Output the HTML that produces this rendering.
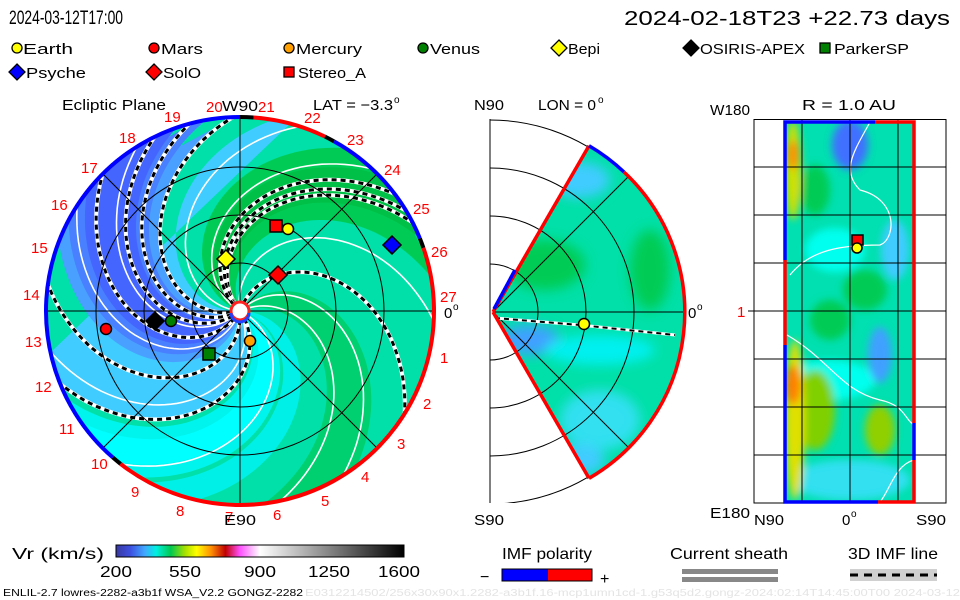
<!DOCTYPE html>
<html><head><meta charset="utf-8">
<style>
html,body{margin:0;padding:0;background:#fff;}
svg{display:block;font-family:"Liberation Sans",sans-serif;}
</style></head>
<body>
<svg id="s" width="960" height="600" viewBox="0 0 960 600" xmlns="http://www.w3.org/2000/svg">
<defs>
  <clipPath id="cc"><circle cx="240" cy="311" r="194"/></clipPath>
  <clipPath id="wc"><path d="M493,312 L589,145.7 A192,192 0 0 1 589,478.3 Z"/></clipPath>
  <clipPath id="rc"><rect x="785" y="122" width="129" height="380"/></clipPath>
  <clipPath id="mb"><rect x="490" y="119" width="260" height="384"/></clipPath>
  <filter id="bl" x="-50%" y="-50%" width="200%" height="200%"><feGaussianBlur stdDeviation="6"/></filter>
  <filter id="bl2" x="-50%" y="-50%" width="200%" height="200%"><feGaussianBlur stdDeviation="4"/></filter>
  <linearGradient id="cb" x1="0" x2="1" y1="0" y2="0">
    <stop offset="0" stop-color="#3838a0"/>
    <stop offset="0.05" stop-color="#3c50e0"/>
    <stop offset="0.1" stop-color="#40a8ff"/>
    <stop offset="0.14" stop-color="#00f0e0"/>
    <stop offset="0.19" stop-color="#00c850"/>
    <stop offset="0.24" stop-color="#a8e000"/>
    <stop offset="0.28" stop-color="#ffff00"/>
    <stop offset="0.33" stop-color="#ff9000"/>
    <stop offset="0.38" stop-color="#c00000"/>
    <stop offset="0.43" stop-color="#ff50ff"/>
    <stop offset="0.5" stop-color="#ffffff"/>
    <stop offset="1" stop-color="#000000"/>
  </linearGradient>
</defs>

<!-- header -->
<text x="9" y="24" font-size="19" textLength="114" lengthAdjust="spacingAndGlyphs">2024-03-12T17:00</text>
<text x="624" y="25" font-size="20" textLength="326" lengthAdjust="spacingAndGlyphs">2024-02-18T23 +22.73 days</text>

<!-- legend -->
<g font-size="15" stroke-width="1.3">
  <circle cx="17" cy="48" r="5" fill="#ffff00" stroke="#000"/><text x="23" y="54" textLength="50" lengthAdjust="spacingAndGlyphs">Earth</text>
  <circle cx="154" cy="48" r="5" fill="#ff0000" stroke="#000"/><text x="161" y="54" textLength="42" lengthAdjust="spacingAndGlyphs">Mars</text>
  <circle cx="289" cy="48" r="5" fill="#ffa000" stroke="#000"/><text x="296" y="54" textLength="66" lengthAdjust="spacingAndGlyphs">Mercury</text>
  <circle cx="423" cy="48" r="5" fill="#008000" stroke="#000"/><text x="430" y="54" textLength="50" lengthAdjust="spacingAndGlyphs">Venus</text>
  <path d="M559,40 L567,48 L559,56 L551,48Z" fill="#ffff00" stroke="#000"/><text x="568" y="54" textLength="32" lengthAdjust="spacingAndGlyphs">Bepi</text>
  <path d="M691,40 L699,48 L691,56 L683,48Z" fill="#000" stroke="#000"/><text x="700" y="54" textLength="105" lengthAdjust="spacingAndGlyphs">OSIRIS-APEX</text>
  <rect x="820" y="43" width="10" height="10" fill="#008000" stroke="#000"/><text x="834" y="54" textLength="75" lengthAdjust="spacingAndGlyphs">ParkerSP</text>
  <path d="M17,64 L25,72 L17,80 L9,72Z" fill="#0000ff" stroke="#000"/><text x="26" y="78" textLength="60" lengthAdjust="spacingAndGlyphs">Psyche</text>
  <path d="M154,64 L162,72 L154,80 L146,72Z" fill="#ff0000" stroke="#000"/><text x="163" y="78" textLength="38" lengthAdjust="spacingAndGlyphs">SolO</text>
  <rect x="284" y="67" width="10" height="10" fill="#ff0000" stroke="#000"/><text x="298" y="78" textLength="68" lengthAdjust="spacingAndGlyphs">Stereo_A</text>
</g>

<!-- LEFT PANEL -->
<g clip-path="url(#cc)">
  <circle cx="240" cy="311" r="194" fill="#00e0a8"/>
  <g id="bands"></g>
  <g id="lines"></g>
</g>
<g fill="none" stroke="#000" stroke-width="1">
  <circle cx="240" cy="311" r="48"/><circle cx="240" cy="311" r="96"/><circle cx="240" cy="311" r="144"/>
  <line x1="46" y1="311" x2="434" y2="311"/><line x1="240" y1="117" x2="240" y2="505"/>
  <line x1="103" y1="174" x2="377" y2="448"/><line x1="103" y1="448" x2="377" y2="174"/>
</g>
<g id="ring" fill="none" stroke-width="4"></g>
<g id="lab" font-size="15" fill="#ff0000"></g>
<text x="62" y="110" font-size="15" textLength="104" lengthAdjust="spacingAndGlyphs">Ecliptic Plane</text>
<text x="222" y="111" font-size="15" textLength="36" lengthAdjust="spacingAndGlyphs">W90</text>
<text x="224" y="525" font-size="15" textLength="32" lengthAdjust="spacingAndGlyphs">E90</text>
<text x="313" y="110" font-size="15" textLength="80" lengthAdjust="spacingAndGlyphs">LAT = −3.3</text>
<text x="394" y="103" font-size="10">o</text>
<text x="444" y="318" font-size="15">0</text><text x="453" y="310" font-size="10">o</text>

<!-- markers left -->
<g stroke="#000" stroke-width="1.5">
  <circle cx="240" cy="311" r="9" fill="#fff" stroke="#ff2020" stroke-width="3"/>
  <path d="M231,313 A9,9 0 0 0 249,313" fill="none" stroke="#2040ff" stroke-width="3"/>
  <rect x="270" y="220" width="12" height="12" fill="#ff0000"/>
  <circle cx="288" cy="229" r="5.5" fill="#ffff00"/>
  <path d="M392,236 L401,245 L392,254 L383,245Z" fill="#0000ff"/>
  <path d="M278,266 L287,275 L278,284 L269,275Z" fill="#ff0000"/>
  <path d="M226,250 L235,259 L226,268 L217,259Z" fill="#ffff00"/>
  <circle cx="106" cy="329" r="5.5" fill="#ff0000"/>
  <path d="M155,312 L164,321 L155,330 L146,321Z" fill="#000"/>
  <circle cx="171" cy="321" r="5.5" fill="#008000"/>
  <circle cx="250" cy="341" r="5.5" fill="#ffa000"/>
  <rect x="203" y="348" width="12" height="12" fill="#008000"/>
</g>

<!-- MIDDLE PANEL -->
<g fill="none" stroke="#000" stroke-width="1" clip-path="url(#mb)">
  <circle cx="490" cy="312" r="48"/><circle cx="490" cy="312" r="96"/><circle cx="490" cy="312" r="144"/><circle cx="490" cy="312" r="192"/>
</g>
<line x1="490" y1="119" x2="490" y2="503" stroke="#000"/>
<g clip-path="url(#wc)">
  <rect x="480" y="130" width="220" height="360" fill="#00e0a8"/>
  <g filter="url(#bl)">
    <ellipse cx="545" cy="265" rx="40" ry="25" fill="#00cc55"/>
    <ellipse cx="650" cy="270" rx="20" ry="40" fill="#00cc55"/>
    <ellipse cx="580" cy="180" rx="30" ry="18" fill="#40ccff"/>
    <ellipse cx="530" cy="340" rx="30" ry="15" fill="#40a0ff"/>
    <ellipse cx="600" cy="350" rx="55" ry="15" fill="#00f0f0"/>
    <ellipse cx="600" cy="420" rx="40" ry="30" fill="#30e0f0"/>
    <ellipse cx="580" cy="460" rx="25" ry="15" fill="#40ccff"/>
  </g>
  <g fill="none" stroke="#000" stroke-width="1">
    <circle cx="490" cy="312" r="48"/><circle cx="490" cy="312" r="96"/><circle cx="490" cy="312" r="144"/>
    <line x1="490" y1="312" x2="690" y2="312"/>
    <line x1="493" y1="312" x2="630" y2="175"/><line x1="493" y1="312" x2="630" y2="449"/>
  </g>
  <path d="M495,318 L580,325 L675,335" stroke="#fff" stroke-width="3" fill="none"/>
  <path d="M495,318 L580,325 L675,335" stroke="#000" stroke-width="2" stroke-dasharray="5,4" fill="none"/>
</g>
<g fill="none" stroke-width="3.5">
  <path d="M493,312 L589,145.7" stroke="#ff0000"/>
  <path d="M589,145.7 A192,192 0 0 1 624,172" stroke="#0000ff"/>
  <path d="M624,172 A192,192 0 0 1 589,478.3" stroke="#ff0000"/>
  <path d="M493,312 L589,478.3" stroke="#ff0000"/>
  <path d="M494,309 L515,270" stroke="#0000ff"/>
</g>
<circle cx="584" cy="324" r="5.5" fill="#ffff00" stroke="#000" stroke-width="1.5"/>
<text x="474" y="110" font-size="15" textLength="30" lengthAdjust="spacingAndGlyphs">N90</text>
<text x="538" y="110" font-size="15" textLength="58" lengthAdjust="spacingAndGlyphs">LON = 0</text>
<text x="598" y="103" font-size="10">o</text>
<text x="474" y="525" font-size="15" textLength="30" lengthAdjust="spacingAndGlyphs">S90</text>
<text x="688" y="318" font-size="15">0</text><text x="697" y="310" font-size="10">o</text>

<!-- RIGHT PANEL -->
<rect x="754" y="119.5" width="192" height="383.5" fill="#fff" stroke="#000"/>
<g clip-path="url(#rc)">
  <rect x="785" y="122" width="129" height="380" fill="#00e0b0"/>
  <g filter="url(#bl2)">
    <ellipse cx="835" cy="250" rx="30" ry="22" fill="#00ffee"/>
    <ellipse cx="830" cy="380" rx="45" ry="20" fill="#00ffee"/>
    <ellipse cx="850" cy="480" rx="60" ry="20" fill="#30e0f0"/>
    <ellipse cx="850" cy="145" rx="18" ry="25" fill="#4070ff"/>
    <ellipse cx="880" cy="355" rx="12" ry="28" fill="#40a0ff"/>
    <ellipse cx="895" cy="250" rx="14" ry="30" fill="#40ccff"/>
    <ellipse cx="815" cy="190" rx="15" ry="25" fill="#00cc55"/>
    <ellipse cx="865" cy="290" rx="22" ry="20" fill="#00cc55"/>
    <ellipse cx="830" cy="320" rx="20" ry="20" fill="#00cc55"/>
    <ellipse cx="880" cy="430" rx="15" ry="25" fill="#90d000"/>
    <ellipse cx="815" cy="410" rx="20" ry="40" fill="#80d000"/>
    <ellipse cx="793" cy="170" rx="8" ry="50" fill="#d0e000"/>
    <ellipse cx="793" cy="155" rx="6" ry="15" fill="#ff9000"/>
    <ellipse cx="795" cy="420" rx="10" ry="80" fill="#e0e000"/>
    <ellipse cx="793" cy="385" rx="8" ry="20" fill="#ff8000"/>
  </g>
  <path d="M870,122 C855,150 840,170 860,190 C900,200 895,240 880,245 C840,245 810,250 790,275" stroke="#fff" fill="none" stroke-width="1.2"/>
  <path d="M787,335 C830,360 840,390 880,400 C905,405 905,420 914,425" stroke="#fff" fill="none" stroke-width="1.2"/>
  <path d="M880,502 C890,490 895,465 914,460" stroke="#fff" fill="none" stroke-width="1.2"/>
</g>
<g stroke="#000" stroke-width="1">
  <line x1="802" y1="120" x2="802" y2="503"/><line x1="850" y1="120" x2="850" y2="503"/><line x1="898" y1="120" x2="898" y2="503"/>
  <line x1="754" y1="167" x2="946" y2="167"/><line x1="754" y1="215" x2="946" y2="215"/><line x1="754" y1="263" x2="946" y2="263"/>
  <line x1="748" y1="311" x2="946" y2="311"/><line x1="754" y1="359" x2="946" y2="359"/><line x1="754" y1="407" x2="946" y2="407"/><line x1="754" y1="455" x2="946" y2="455"/>
</g>
<g fill="none" stroke-width="3.5">
  <path d="M785,260 L785,122 L875,122" stroke="#0000ff"/>
  <path d="M875,122 L914,122 L914,423" stroke="#ff0000"/>
  <path d="M914,423 L914,460" stroke="#0000ff"/>
  <path d="M914,460 L914,502 L878,502" stroke="#ff0000"/>
  <path d="M878,502 L785,502 L785,345" stroke="#0000ff"/>
  <path d="M785,345 L785,260" stroke="#ff0000"/>
</g>
<rect x="852" y="235" width="11" height="10" fill="#ff0000" stroke="#000" stroke-width="1.5"/>
<circle cx="857" cy="248" r="5" fill="#ffff00" stroke="#000" stroke-width="1.5"/>
<text x="802" y="110" font-size="15" textLength="94" lengthAdjust="spacingAndGlyphs">R = 1.0 AU</text>
<text x="710" y="115" font-size="15" textLength="40" lengthAdjust="spacingAndGlyphs">W180</text>
<text x="710" y="518" font-size="15" textLength="40" lengthAdjust="spacingAndGlyphs">E180</text>
<text x="737" y="317" font-size="15" fill="#ff0000">1</text>
<text x="754" y="525" font-size="15" textLength="30" lengthAdjust="spacingAndGlyphs">N90</text>
<text x="842" y="525" font-size="15">0</text><text x="851" y="517" font-size="10">o</text>
<text x="916" y="525" font-size="15" textLength="30" lengthAdjust="spacingAndGlyphs">S90</text>

<!-- colorbar -->
<text x="12" y="559" font-size="16" textLength="92" lengthAdjust="spacingAndGlyphs">Vr (km/s)</text>
<rect x="116" y="545" width="288" height="12" fill="url(#cb)" stroke="#000"/>
<g font-size="16">
  <text x="100" y="577" textLength="32" lengthAdjust="spacingAndGlyphs">200</text>
  <text x="169" y="577" textLength="32" lengthAdjust="spacingAndGlyphs">550</text>
  <text x="244" y="577" textLength="32" lengthAdjust="spacingAndGlyphs">900</text>
  <text x="308" y="577" textLength="42" lengthAdjust="spacingAndGlyphs">1250</text>
  <text x="378" y="577" textLength="42" lengthAdjust="spacingAndGlyphs">1600</text>
</g>
<text x="502" y="559" font-size="16" textLength="90" lengthAdjust="spacingAndGlyphs">IMF polarity</text>
<text x="480" y="582" font-size="16">−</text>
<rect x="502" y="569" width="46" height="12" fill="#0000ff"/>
<rect x="548" y="569" width="44" height="12" fill="#ff0000"/>
<rect x="502" y="569" width="90" height="12" fill="none" stroke="#000"/>
<text x="600" y="584" font-size="16">+</text>
<text x="670" y="559" font-size="16" textLength="118" lengthAdjust="spacingAndGlyphs">Current sheath</text>
<rect x="682" y="569" width="96" height="5" fill="#888"/>
<rect x="682" y="577" width="96" height="5" fill="#888"/>
<text x="848" y="559" font-size="16" textLength="90" lengthAdjust="spacingAndGlyphs">3D IMF line</text>
<rect x="850" y="569" width="87" height="12" fill="#d0d0d0"/>
<line x1="850" y1="575" x2="937" y2="575" stroke="#000" stroke-width="3" stroke-dasharray="8,6"/>
<text x="3" y="596" font-size="10" textLength="300" lengthAdjust="spacingAndGlyphs">ENLIL-2.7 lowres-2282-a3b1f WSA_V2.2 GONGZ-2282</text>
<text x="305" y="596" font-size="10" fill="#e4e4e4" textLength="655" lengthAdjust="spacingAndGlyphs">E0312214502/256x30x90x1.2282-a3b1f.16-mcp1umn1cd-1.g53q5d2.gongz-2024:02:14T14:45:00T00   2024-03-12</text>
</svg>
<script>
(function(){
var NS="http://www.w3.org/2000/svg",cx=240,cy=311,A=108;
function pt(p0,r){var f=p0*Math.PI/180-r/A;return [cx+r*Math.cos(f),cy-r*Math.sin(f)];}
function sp(p0){var a=[];for(var r=0;r<=210;r+=4){a.push(pt(p0,r));}return a;}
function el(tag,at,par){var e=document.createElementNS(NS,tag);for(var k in at)e.setAttribute(k,at[k]);document.getElementById(par).appendChild(e);return e;}
function band(a,b,col,par){var p=sp(a),q=sp(b).reverse();var d="M"+p.concat(q).map(function(v){return v[0].toFixed(1)+","+v[1].toFixed(1);}).join(" L")+"Z";el("path",{d:d,fill:col},par);}
band(183,305,"#40ccff","bands");
band(195,262,"#4aa0ff","bands");
band(203,255,"#4880ff","bands");
band(212,245,"#4466ff","bands");
band(113,160,"#00cc55","bands");
band(125,148,"#00c048","bands");
band(310,342,"#00f4ee","bands");
band(318,334,"#00ffff","bands");
band(20,50,"#00d070","bands");
band(345,360,"#00f0e8","bands");
function line(p0,dash){var d="M"+sp(p0).map(function(v){return v[0].toFixed(1)+","+v[1].toFixed(1);}).join(" L");
 if(dash){el("path",{d:d,fill:"none",stroke:"#fff","stroke-width":4},"lines");el("path",{d:d,fill:"none",stroke:"#000","stroke-width":3,"stroke-dasharray":"5,4"},"lines");}
 else el("path",{d:d,fill:"none",stroke:"#fff","stroke-width":1.6},"lines");}
[100,150,175,250,295,335,25,45,225].forEach(function(p){line(p,false);});
[71,130,134,140,195,208,219,238,275,305].forEach(function(p){line(p,true);});
function arc(a1,a2,col){var r=194,s=a1*Math.PI/180,e=a2*Math.PI/180;var x1=cx+r*Math.cos(s),y1=cy-r*Math.sin(s),x2=cx+r*Math.cos(e),y2=cy-r*Math.sin(e);
 var large=Math.abs(a1-a2)>180?1:0;var sweep=a2<a1?1:0;
 el("path",{d:"M"+x1+","+y1+" A"+r+","+r+" 0 "+large+" "+sweep+" "+x2+","+y2,stroke:col},"ring");}
arc(86,64,"#ff0000");arc(64,61,"#000");arc(61,22,"#0000ff");arc(22,19,"#000");arc(19,-128,"#ff0000");arc(-128,-131,"#000");arc(-131,-270,"#0000ff");arc(90,86,"#000");
var L=[["19",164,122],["20",206,112],["21",258,112],["22",304,123],["23",347,145],["24",384,175],["25",413,214],["26",431,257],["27",440,302],
["1",440,363],["2",423,409],["3",397,449],["4",361,482],["5",321,506],["6",273,520],["7",225,522],["8",176,516],["9",131,497],["10",91,469],
["11",59,434],["12",35,392],["13",25,347],["14",23,300],["15",31,253],["16",51,210],["17",81,173],["18",119,143]];
L.forEach(function(l){var t=el("text",{x:l[1],y:l[2]},"lab");t.textContent=l[0];});
})();
</script>
</body></html>
